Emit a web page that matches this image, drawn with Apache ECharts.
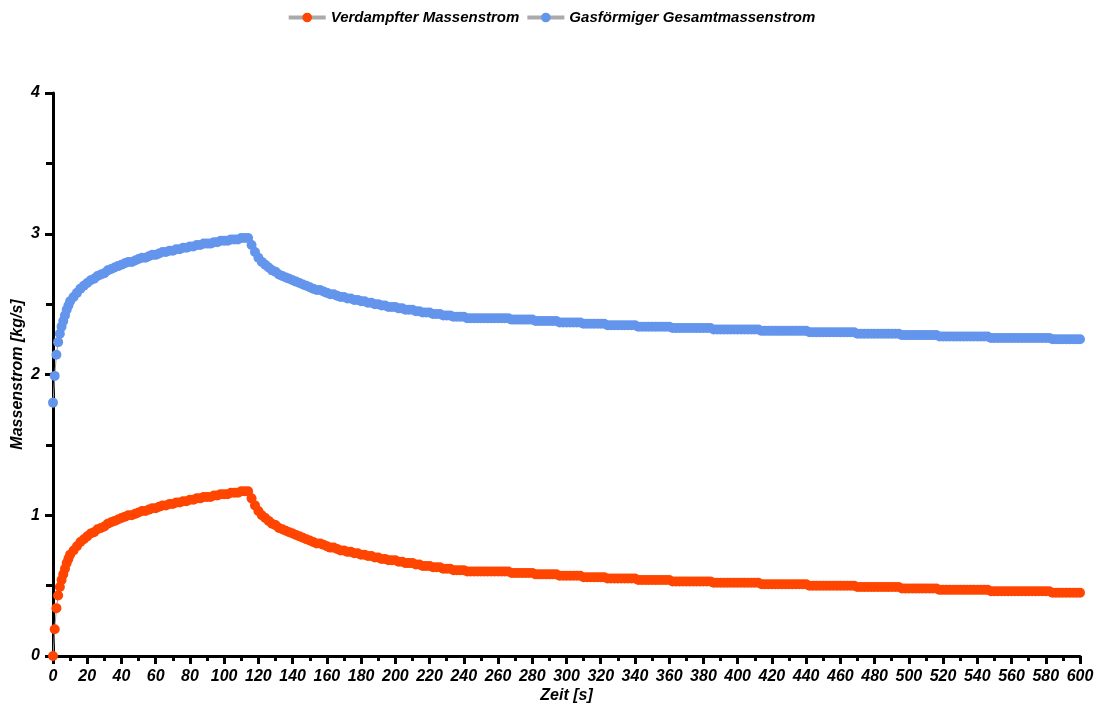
<!DOCTYPE html>
<html>
<head>
<meta charset="utf-8">
<title>Massenstrom</title>
<script src="https://cdn.jsdelivr.net/npm/echarts@6/dist/echarts.min.js"></script>
<style>
    html, body { margin: 0; padding: 0; background: #fff; }
    #chartBox { width: 1102px; height: 704px; }
</style>
</head>
<body>
<div id="chartBox"></div>
<script>
// Abtastzeitpunkte [s]: 0..10 im Sekundentakt, danach alle 2 s bis 600
var zeit = [];
for (var t = 0; t <= 10; t++) zeit.push(t);
for (var t2 = 12; t2 <= 600; t2 += 2) zeit.push(t2);

// Verdampfter Massenstrom [kg/s]
var verdampft = [
    0, 0.19, 0.34, 0.43, 0.49, 0.54, 0.58, 0.62, 0.66, 0.69,
    0.72, 0.75, 0.78, 0.81, 0.83, 0.85, 0.87, 0.88, 0.90, 0.91,
    0.92, 0.94, 0.95, 0.96, 0.97, 0.98, 0.99, 1.00, 1.00, 1.01,
    1.02, 1.03, 1.03, 1.04, 1.05, 1.05, 1.06, 1.07, 1.07, 1.08,
    1.08, 1.09, 1.09, 1.10, 1.10, 1.11, 1.11, 1.12, 1.12, 1.13,
    1.13, 1.13, 1.14, 1.14, 1.15, 1.15, 1.15, 1.16, 1.16, 1.16,
    1.17, 1.17, 1.17, 1.12, 1.07, 1.03, 1.00, 0.98, 0.96, 0.94,
    0.93, 0.91, 0.90, 0.89, 0.88, 0.87, 0.86, 0.85, 0.84, 0.83,
    0.82, 0.81, 0.80, 0.80, 0.79, 0.78, 0.77, 0.77, 0.76, 0.75,
    0.75, 0.74, 0.74, 0.73, 0.73, 0.72, 0.72, 0.71, 0.71, 0.70,
    0.70, 0.69, 0.69, 0.68, 0.68, 0.68, 0.67, 0.67, 0.66, 0.66,
    0.66, 0.65, 0.65, 0.64, 0.64, 0.64, 0.63, 0.63, 0.63, 0.62,
    0.62, 0.62, 0.61, 0.61, 0.61, 0.61, 0.60, 0.60, 0.60, 0.60,
    0.60, 0.60, 0.60, 0.60, 0.60, 0.60, 0.60, 0.60, 0.60, 0.59,
    0.59, 0.59, 0.59, 0.59, 0.59, 0.59, 0.58, 0.58, 0.58, 0.58,
    0.58, 0.58, 0.58, 0.57, 0.57, 0.57, 0.57, 0.57, 0.57, 0.57,
    0.56, 0.56, 0.56, 0.56, 0.56, 0.56, 0.56, 0.55, 0.55, 0.55,
    0.55, 0.55, 0.55, 0.55, 0.55, 0.55, 0.54, 0.54, 0.54, 0.54,
    0.54, 0.54, 0.54, 0.54, 0.54, 0.54, 0.53, 0.53, 0.53, 0.53,
    0.53, 0.53, 0.53, 0.53, 0.53, 0.53, 0.53, 0.53, 0.52, 0.52,
    0.52, 0.52, 0.52, 0.52, 0.52, 0.52, 0.52, 0.52, 0.52, 0.52,
    0.52, 0.52, 0.51, 0.51, 0.51, 0.51, 0.51, 0.51, 0.51, 0.51,
    0.51, 0.51, 0.51, 0.51, 0.51, 0.51, 0.50, 0.50, 0.50, 0.50,
    0.50, 0.50, 0.50, 0.50, 0.50, 0.50, 0.50, 0.50, 0.50, 0.50,
    0.49, 0.49, 0.49, 0.49, 0.49, 0.49, 0.49, 0.49, 0.49, 0.49,
    0.49, 0.49, 0.49, 0.48, 0.48, 0.48, 0.48, 0.48, 0.48, 0.48,
    0.48, 0.48, 0.48, 0.48, 0.47, 0.47, 0.47, 0.47, 0.47, 0.47,
    0.47, 0.47, 0.47, 0.47, 0.47, 0.47, 0.47, 0.47, 0.47, 0.46,
    0.46, 0.46, 0.46, 0.46, 0.46, 0.46, 0.46, 0.46, 0.46, 0.46,
    0.46, 0.46, 0.46, 0.46, 0.46, 0.46, 0.46, 0.45, 0.45, 0.45,
    0.45, 0.45, 0.45, 0.45, 0.45, 0.45
];

// Gasförmiger Gesamtmassenstrom [kg/s]
var gesamt = [
    1.80, 1.99, 2.14, 2.23, 2.29, 2.34, 2.38, 2.42, 2.46, 2.49,
    2.52, 2.55, 2.58, 2.61, 2.63, 2.65, 2.67, 2.68, 2.70, 2.71,
    2.72, 2.74, 2.75, 2.76, 2.77, 2.78, 2.79, 2.80, 2.80, 2.81,
    2.82, 2.83, 2.83, 2.84, 2.85, 2.85, 2.86, 2.87, 2.87, 2.88,
    2.88, 2.89, 2.89, 2.90, 2.90, 2.91, 2.91, 2.92, 2.92, 2.93,
    2.93, 2.93, 2.94, 2.94, 2.95, 2.95, 2.95, 2.96, 2.96, 2.96,
    2.97, 2.97, 2.97, 2.92, 2.87, 2.83, 2.80, 2.78, 2.76, 2.74,
    2.73, 2.71, 2.70, 2.69, 2.68, 2.67, 2.66, 2.65, 2.64, 2.63,
    2.62, 2.61, 2.60, 2.60, 2.59, 2.58, 2.57, 2.57, 2.56, 2.55,
    2.55, 2.54, 2.54, 2.53, 2.53, 2.52, 2.52, 2.51, 2.51, 2.50,
    2.50, 2.49, 2.49, 2.48, 2.48, 2.48, 2.47, 2.47, 2.46, 2.46,
    2.46, 2.45, 2.45, 2.44, 2.44, 2.44, 2.43, 2.43, 2.43, 2.42,
    2.42, 2.42, 2.41, 2.41, 2.41, 2.41, 2.40, 2.40, 2.40, 2.40,
    2.40, 2.40, 2.40, 2.40, 2.40, 2.40, 2.40, 2.40, 2.40, 2.39,
    2.39, 2.39, 2.39, 2.39, 2.39, 2.39, 2.38, 2.38, 2.38, 2.38,
    2.38, 2.38, 2.38, 2.37, 2.37, 2.37, 2.37, 2.37, 2.37, 2.37,
    2.36, 2.36, 2.36, 2.36, 2.36, 2.36, 2.36, 2.35, 2.35, 2.35,
    2.35, 2.35, 2.35, 2.35, 2.35, 2.35, 2.34, 2.34, 2.34, 2.34,
    2.34, 2.34, 2.34, 2.34, 2.34, 2.34, 2.33, 2.33, 2.33, 2.33,
    2.33, 2.33, 2.33, 2.33, 2.33, 2.33, 2.33, 2.33, 2.32, 2.32,
    2.32, 2.32, 2.32, 2.32, 2.32, 2.32, 2.32, 2.32, 2.32, 2.32,
    2.32, 2.32, 2.31, 2.31, 2.31, 2.31, 2.31, 2.31, 2.31, 2.31,
    2.31, 2.31, 2.31, 2.31, 2.31, 2.31, 2.30, 2.30, 2.30, 2.30,
    2.30, 2.30, 2.30, 2.30, 2.30, 2.30, 2.30, 2.30, 2.30, 2.30,
    2.29, 2.29, 2.29, 2.29, 2.29, 2.29, 2.29, 2.29, 2.29, 2.29,
    2.29, 2.29, 2.29, 2.28, 2.28, 2.28, 2.28, 2.28, 2.28, 2.28,
    2.28, 2.28, 2.28, 2.28, 2.27, 2.27, 2.27, 2.27, 2.27, 2.27,
    2.27, 2.27, 2.27, 2.27, 2.27, 2.27, 2.27, 2.27, 2.27, 2.26,
    2.26, 2.26, 2.26, 2.26, 2.26, 2.26, 2.26, 2.26, 2.26, 2.26,
    2.26, 2.26, 2.26, 2.26, 2.26, 2.26, 2.26, 2.25, 2.25, 2.25,
    2.25, 2.25, 2.25, 2.25, 2.25, 2.25
];

var reihenNamen = ['Verdampfter Massenstrom', 'Gasförmiger Gesamtmassenstrom'];
var reihenFarben = ['#FF4500', '#6495ED'];

var schrift = 'Liberation Sans, Arial, Helvetica, sans-serif';

function paare(werte) {
    return zeit.map(function (t, i) {
        return [t, werte[i]];
    });
}

function textStil(groesse, extra) {
    var s = {
        color: '#000', fontFamily: schrift, fontSize: groesse,
        fontWeight: 'bold', fontStyle: 'italic'
    };
    for (var k in extra) s[k] = extra[k];
    return s;
}

function achse(opts) {
    var basis = {
        type: 'value',
        nameLocation: 'middle',
        nameMoveOverlap: false,
        nameTextStyle: textStil(16),
        axisLine: {show: true, lineStyle: {color: '#000', width: 3}},
        axisTick: {show: true, inside: false, length: 8, lineStyle: {color: '#000', width: 3}},
        minorTick: {show: true, splitNumber: 2, length: 5, lineStyle: {color: '#000', width: 3}},
        splitLine: {show: false},
        minorSplitLine: {show: false},
        axisLabel: textStil(16, {margin: 13})
    };
    for (var k in opts) basis[k] = opts[k];
    return basis;
}

function massenstromChart() {
    var myChart = echarts.init(document.getElementById('chartBox'));
    var option = {
        animation: false,
        backgroundColor: '#fff',
        grid: {left: 53, right: 22, top: 93, bottom: 48, containLabel: false, outerBoundsMode: 'none'},
        legend: {
            top: 5,
            left: 'center',
            itemWidth: 37,
            itemHeight: 12,
            itemGap: 6,
            lineStyle: {color: '#aaaaaa', width: 4},
            textStyle: textStil(15),
            data: reihenNamen
        },
        xAxis: achse({
            min: 0, max: 600, interval: 20,
            name: 'Zeit [s]', nameGap: 32,
            axisLabel: textStil(16, {margin: 13})
        }),
        yAxis: achse({
            min: 0, max: 4, interval: 1,
            name: 'Massenstrom [kg/s]', nameGap: 27,
            minorTick: {show: true, splitNumber: 2, length: 7, lineStyle: {color: '#000', width: 3}}
        }),
        series: [verdampft, gesamt].map(function (werte, i) {
            return {
                name: reihenNamen[i],
                type: 'line',
                data: paare(werte),
                symbol: 'circle',
                symbolSize: 10,
                showSymbol: true,
                showAllSymbol: true,
                itemStyle: {color: reihenFarben[i]},
                lineStyle: {color: '#999999', width: 1}
            };
        })
    };
    myChart.setOption(option);
}

massenstromChart();
</script>
</body>
</html>
